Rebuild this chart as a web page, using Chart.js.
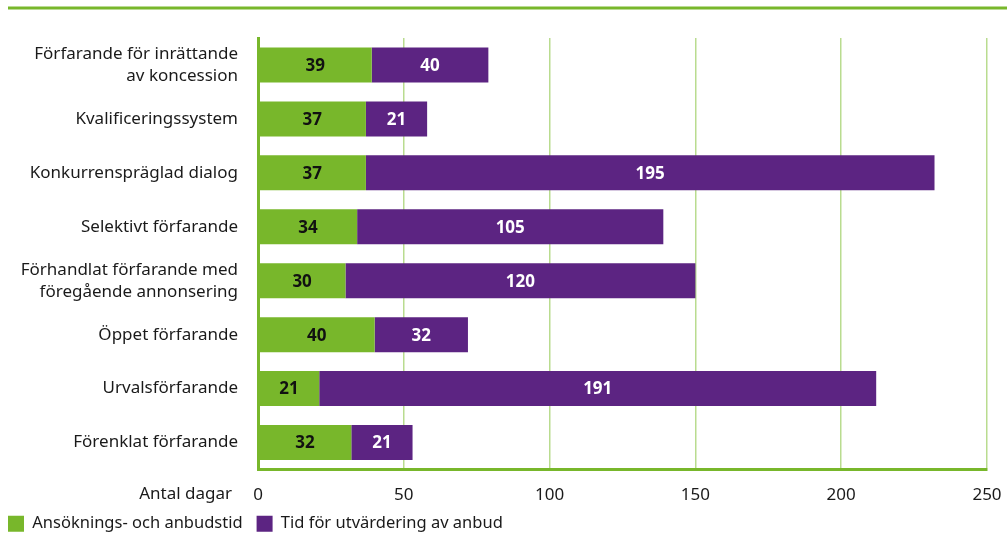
<!DOCTYPE html>
<html>
<head>
<meta charset="utf-8">
<script src="https://cdn.jsdelivr.net/npm/chart.js@4"></script>
<style>
  body { margin: 0; background: #fff; }
  #wrap { width: 1007px; height: 536px; }
</style>
</head>
<body>
<div id="wrap"><canvas id="chartTid" width="1007" height="536"></canvas></div>
<script>
const categories = [
    ['Förfarande för inrättande', 'av koncession'],
    'Kvalificeringssystem',
    'Konkurrenspräglad dialog',
    'Selektivt förfarande',
    ['Förhandlat förfarande med', 'föregående annonsering'],
    'Öppet förfarande',
    'Urvalsförfarande',
    'Förenklat förfarande'
];
const ansokningstid = [39, 37, 37, 34, 30, 40, 21, 32];
const utvarderingstid = [40, 21, 195, 105, 120, 32, 191, 21];
const xTicks = [0, 50, 100, 150, 200, 250];

const green = '#78b72b';
const purple = '#5c2482';
const gridGreen = '#b9dc8f';
const fontFam = "'Noto Sans', 'DejaVu Sans', sans-serif";

// Top rule, "Antal dagar" label and values inside bars
const extras = {
    id: 'extras',
    beforeDraw(chart) {
        const c = chart.ctx;
        c.save();
        c.strokeStyle = green;
        c.lineWidth = 3;
        c.beginPath();
        c.moveTo(8, 8);
        c.lineTo(chart.width, 8);
        c.stroke();
        c.restore();
    },
    afterDatasetsDraw(chart) {
        const c = chart.ctx;
        c.save();
        c.font = 'bold 17px ' + fontFam;
        c.textAlign = 'center';
        c.textBaseline = 'middle';
        chart.data.datasets.forEach((ds, i) => {
            chart.getDatasetMeta(i).data.forEach((bar, j) => {
                const p = bar.getProps(['x', 'y', 'base']);
                c.fillStyle = i === 0 ? '#111' : '#fff';
                c.fillText(ds.data[j], (p.x + p.base) / 2, p.y + 1);
            });
        });
        const xs = chart.scales.x;
        c.font = '17px ' + fontFam;
        c.fillStyle = '#1a1a1a';
        c.textAlign = 'right';
        c.fillText('Antal dagar', xs.left - 26, xs.top + 25);
        c.restore();
    }
};

new Chart(document.getElementById('chartTid'), {
    type: 'bar',
    data: {
        labels: categories,
        datasets: [{
            label: 'Ansöknings- och anbudstid',
            data: ansokningstid,
            backgroundColor: green,
            barPercentage: 0.65,
            categoryPercentage: 1
        }, {
            label: 'Tid för utvärdering av anbud',
            data: utvarderingstid,
            backgroundColor: purple,
            barPercentage: 0.65,
            categoryPercentage: 1
        }]
    },
    options: {
        indexAxis: 'y',
        responsive: false,
        animation: false,
        layout: { padding: { top: 38, left: -6, right: 20, bottom: -6 } },
        scales: {
            x: {
                stacked: true,
                min: 0,
                max: 250,
                afterBuildTicks: (s) => { s.ticks = xTicks.map(v => ({ value: v })); },
                grid: { color: gridGreen, lineWidth: 1.5, drawTicks: false },
                border: { color: green, width: 3 },
                ticks: { color: '#1a1a1a', font: { size: 17, family: fontFam }, padding: 15 },
                afterFit: (s) => { s.height = 32; s.paddingRight = 0; s.paddingLeft = 0; }
            },
            y: {
                stacked: true,
                grid: { display: false, drawTicks: false },
                border: { color: green, width: 3 },
                ticks: { color: '#1a1a1a', font: { size: 17, family: fontFam, lineHeight: 1.3 }, padding: 20, crossAlign: 'near' },
                afterFit: (s) => { s.width = 264; }
            }
        },
        plugins: {
            legend: {
                position: 'bottom',
                align: 'start',
                labels: {
                    boxWidth: 16,
                    boxHeight: 16,
                    padding: 14,
                    color: '#1a1a1a',
                    font: { size: 16.5, family: fontFam }
                }
            },
            tooltip: { enabled: false }
        }
    },
    plugins: [extras]
});
</script>
</body>
</html>
